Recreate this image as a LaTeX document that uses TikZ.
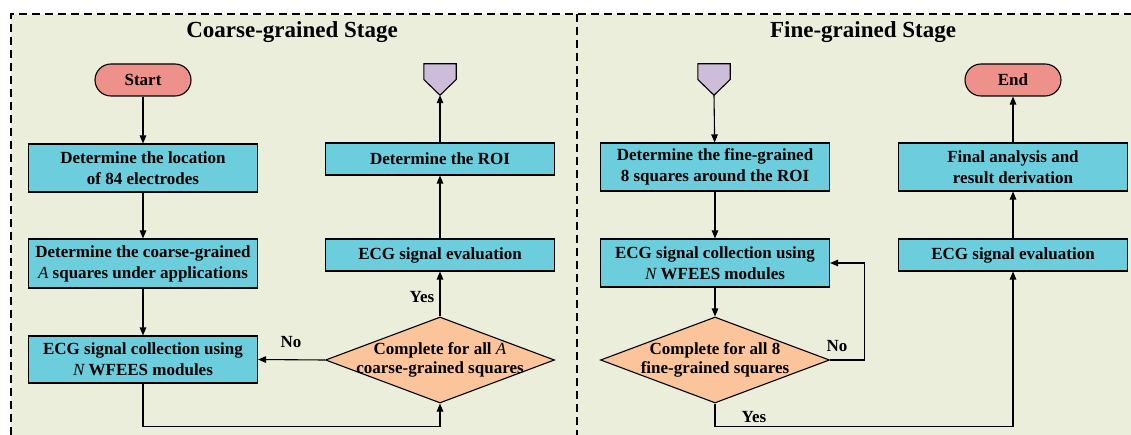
\documentclass[tikz,border=0pt]{standalone}
\usepackage{fontspec}
\setmainfont{Liberation Serif}
\usetikzlibrary{shapes.geometric,arrows.meta}
\definecolor{bgc}{HTML}{EAEEDB}
\definecolor{boxc}{HTML}{6CCEDD}
\definecolor{termc}{HTML}{EE918A}
\definecolor{decc}{HTML}{FBC49A}
\definecolor{pentc}{HTML}{CDBDDA}
\begin{document}
\begin{tikzpicture}[x=1pt,y=-1pt,
  txt/.style={font=\bfseries\fontsize{17}{21}\selectfont, align=center},
  dtxt/.style={font=\bfseries\fontsize{17}{18.5}\selectfont, align=center},
  procbox/.style={txt, draw, fill=boxc, line width=1.1pt, minimum width=229pt, inner sep=0pt},
  term/.style={txt, draw, fill=termc, rounded corners=16pt, minimum width=96pt, minimum height=32pt, inner sep=0pt, line width=1.1pt},
  decision/.style={diamond, draw, fill=decc, minimum width=229pt, minimum height=86pt, inner sep=0pt, line width=1.1pt},
  pentnode/.style={minimum width=32pt, minimum height=31pt, inner sep=0pt},
  pentpath/.style={draw, fill=pentc, line width=1.1pt},
  conn/.style={line width=1.1pt, -{Triangle[length=8pt,width=6.5pt]}},
  lbl/.style={font=\bfseries\fontsize{17}{18}\selectfont},
  stage/.style={dash pattern=on 8pt off 5pt, line width=1.2pt},
  title/.style={font=\bfseries\fontsize{23}{26}\selectfont}
]
\useasboundingbox (0,0) rectangle (1131,435);
\fill[bgc] (11,14) rectangle (1131,435);
\draw[stage] (11,435) -- (11,14) -- (1131,14);
\draw[stage] (577,14) -- (577,435);

\node[title] (t1) at (292,32) {Coarse-grained Stage};
\node[title] (t2) at (863,32) {Fine-grained Stage};

% left panel
\node[term] (start) at (143,80) {Start};
\node[procbox, minimum height=48pt] (loc) at (143,168) {Determine the location\\of 84 electrodes};
\node[procbox, minimum height=49pt] (coarse) at (143,263.5) {Determine the coarse-grained\\{\normalfont\itshape A} squares under applications};
\node[procbox, minimum height=47pt] (coll1) at (143,359.5) {ECG signal collection using\\{\normalfont\itshape N} WFEES modules};
\node[decision, label={[dtxt]center:Complete for all {\normalfont\itshape A}\\coarse-grained squares}] (dec1) at (440,360) {};
\node[procbox, minimum height=32pt] (eval1) at (440,255) {ECG signal evaluation};
\node[procbox, minimum height=32pt] (roi) at (440,159) {Determine the ROI};
\node[pentnode] (pent1) at (440,79.5) {};
\draw[pentpath] (pent1.north west) -- (pent1.north east) -- (pent1.east) -- (pent1.south) -- (pent1.west) -- cycle;

\draw[conn] (start) -- (loc);
\draw[conn] (loc) -- (coarse);
\draw[conn] (coarse) -- (coll1);
\draw[conn] (coll1.south) |- ([yshift=-23pt]dec1.south) -- (dec1.south);
\draw[conn] (dec1.west) -- (coll1.east);
\draw[conn] (dec1.north) -- (eval1.south);
\draw[conn] (eval1) -- (roi);
\draw[conn] (roi.north) -- (pent1.south);
\node[lbl] (no1) at (291,342) {No};
\node[lbl] (yes1) at (422,297) {Yes};

% right panel
\node[pentnode] (pent2) at (714,79.5) {};
\draw[pentpath] (pent2.north west) -- (pent2.north east) -- (pent2.east) -- (pent2.south) -- (pent2.west) -- cycle;
\node[procbox, minimum height=48pt] (fine) at (715,167) {Determine the fine-grained\\8 squares around the ROI};
\node[procbox, minimum height=48pt] (coll2) at (715,263) {ECG signal collection using\\{\normalfont\itshape N} WFEES modules};
\node[decision, label={[dtxt]center:Complete for all 8\\fine-grained squares}] (dec2) at (715,360) {};
\node[procbox, minimum height=32pt] (eval2) at (1013,255) {ECG signal evaluation};
\node[procbox, minimum height=48pt] (final) at (1013,167) {Final analysis and\\result derivation};
\node[term] (end) at (1013,80) {End};

\draw[conn] (pent2.south) -- (fine);
\draw[conn] (fine) -- (coll2);
\draw[conn] (coll2) -- (dec2);
\draw[conn] (dec2.east) -- ++(34.5,0) |- (coll2.east);
\draw[conn] (dec2.south) -- ++(0,23) -| (eval2.south);
\draw[conn] (eval2) -- (final);
\draw[conn] (final) -- (end);
\node[lbl] (no2) at (837,346) {No};
\node[lbl] (yes2) at (754,417) {Yes};
\end{tikzpicture}
\end{document}
